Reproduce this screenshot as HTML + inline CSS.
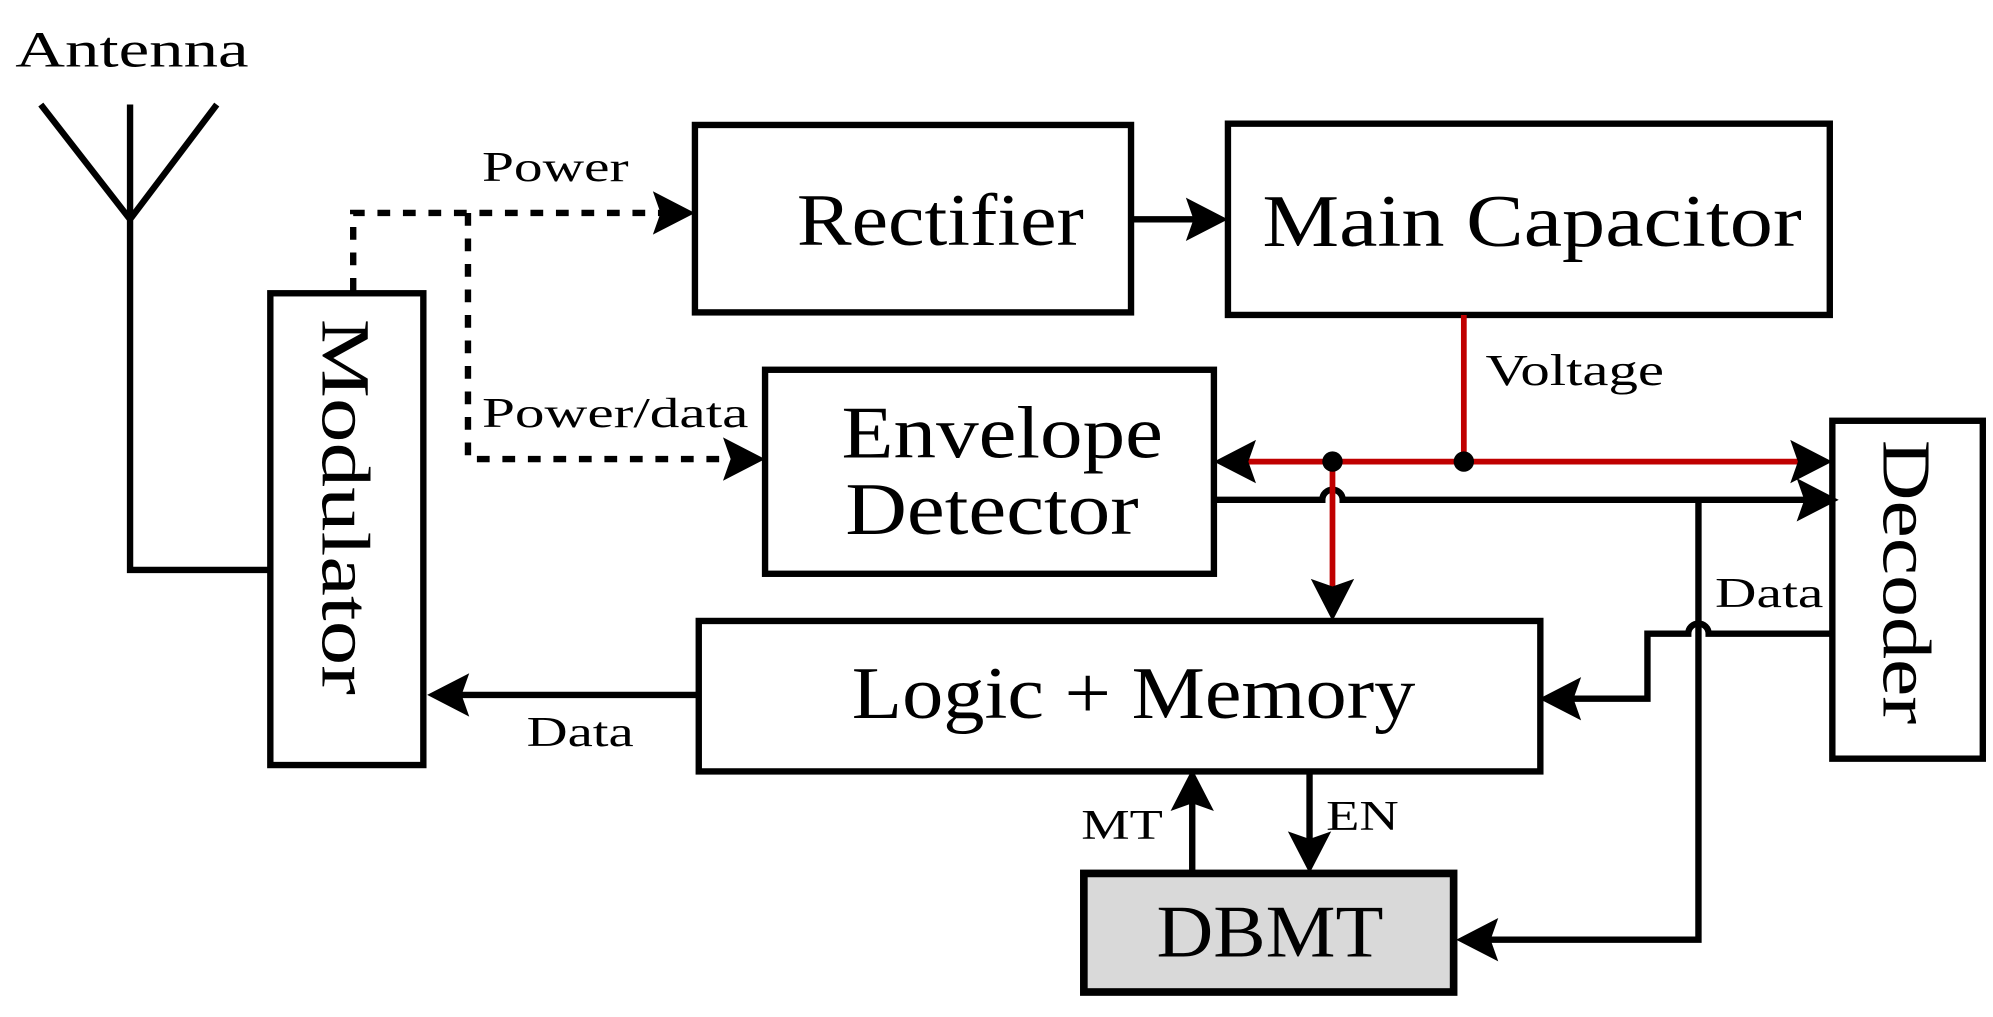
<!DOCTYPE html>
<html><head><meta charset="utf-8"><style>html,body{margin:0;padding:0;background:#fff;}svg{display:block}</style></head>
<body>
<svg width="1993" height="1017" viewBox="0 0 1563 797.6" preserveAspectRatio="none" xmlns="http://www.w3.org/2000/svg" font-family="'Liberation Serif', serif">
<g fill="none" stroke="#000" stroke-width="5">
<path d="M32,82 L102,172 L170,82 M102,82 L102,447 L212,447"/>
<rect x="212" y="230" width="120" height="370"/>
<rect x="545" y="98" width="342" height="147"/>
<rect x="963" y="97" width="472" height="150"/>
<rect x="600" y="290" width="352" height="160"/>
<rect x="548" y="487" width="660" height="118"/>
<rect x="1437" y="330" width="118" height="265"/>
<rect x="850" y="685" width="290" height="93" fill="#d9d9d9" stroke-width="6"/>
<path d="M277,228 L277,167 L518,167 M367,167 L367,360 L575,360" stroke-dasharray="10,10" stroke-width="5"/>
<path d="M887,172 L940,172"/>
<path d="M952,392 L1037,392 A8,8 0 0 1 1053,392 L1418,392"/>
<path d="M1332,392 L1332,737 L1168,737"/>
<path d="M1437,497 L1340,497 A8,8 0 0 0 1324,497 L1292,497 L1292,548 L1232,548"/>
<path d="M548,545 L360,545"/>
<path d="M935,685 L935,628 M1027,605 L1027,662"/>
</g>
<g fill="none" stroke="#c00000" stroke-width="4.5">
<path d="M1148,247 L1148,362"/>
<path d="M975,362 L1412,362"/>
<path d="M1045,362 L1045,462"/>
</g>
<g fill="#000">
<circle cx="1045" cy="362" r="8"/><circle cx="1148" cy="362" r="8"/>
<path d="M545,167 L512,150 L518,167 L512,184 Z"/>
<path d="M600,360 L567,343 L573,360 L567,377 Z"/>
<path d="M963,172 L930,155 L936,172 L930,189 Z"/>
<path d="M952,362 L985,345 L979,362 L985,379 Z"/>
<path d="M1437,362 L1404,345 L1410,362 L1404,379 Z"/>
<path d="M1442,392 L1409,375 L1415,392 L1409,409 Z"/>
<path d="M1045,487 L1028,454 L1045,460 L1062,454 Z"/>
<path d="M1207,548 L1240,531 L1234,548 L1240,565 Z"/>
<path d="M1142,737 L1175,720 L1169,737 L1175,754 Z"/>
<path d="M335,545 L368,528 L362,545 L368,562 Z"/>
<path d="M935,603 L918,636 L935,630 L952,636 Z"/>
<path d="M1027,685 L1010,652 L1027,658 L1044,652 Z"/>
</g>
<g fill="#000" lengthAdjust="spacingAndGlyphs">
<text x="12" y="52" font-size="40" textLength="183" lengthAdjust="spacingAndGlyphs">Antenna</text>
<text x="378" y="142" font-size="33" textLength="115" lengthAdjust="spacingAndGlyphs">Power</text>
<text x="378" y="335" font-size="33" textLength="209" lengthAdjust="spacingAndGlyphs">Power/data</text>
<text x="625" y="192" font-size="58" textLength="225" lengthAdjust="spacingAndGlyphs">Rectifier</text>
<text x="990" y="193" font-size="58" textLength="423" lengthAdjust="spacingAndGlyphs">Main Capacitor</text>
<text x="660" y="359" font-size="58" textLength="252" lengthAdjust="spacingAndGlyphs">Envelope</text>
<text x="663" y="419" font-size="58" textLength="230" lengthAdjust="spacingAndGlyphs">Detector</text>
<text x="1165" y="302" font-size="35" textLength="140" lengthAdjust="spacingAndGlyphs">Voltage</text>
<text x="1345" y="476" font-size="33" textLength="85" lengthAdjust="spacingAndGlyphs">Data</text>
<text x="668" y="563" font-size="58" textLength="442" lengthAdjust="spacingAndGlyphs">Logic + Memory</text>
<text x="413" y="585" font-size="33" textLength="84" lengthAdjust="spacingAndGlyphs">Data</text>
<text x="848" y="658" font-size="33" textLength="64" lengthAdjust="spacingAndGlyphs">MT</text>
<text x="1040" y="651" font-size="33" textLength="57" lengthAdjust="spacingAndGlyphs">EN</text>
<text x="907" y="750" font-size="58" textLength="178" lengthAdjust="spacingAndGlyphs">DBMT</text>
<text transform="translate(253,250) rotate(90)" font-size="54" textLength="295" lengthAdjust="spacingAndGlyphs">Modulator</text>
<text transform="translate(1477,345) rotate(90)" font-size="54" textLength="223" lengthAdjust="spacingAndGlyphs">Decoder</text>
</g>
</svg>
</body></html>
